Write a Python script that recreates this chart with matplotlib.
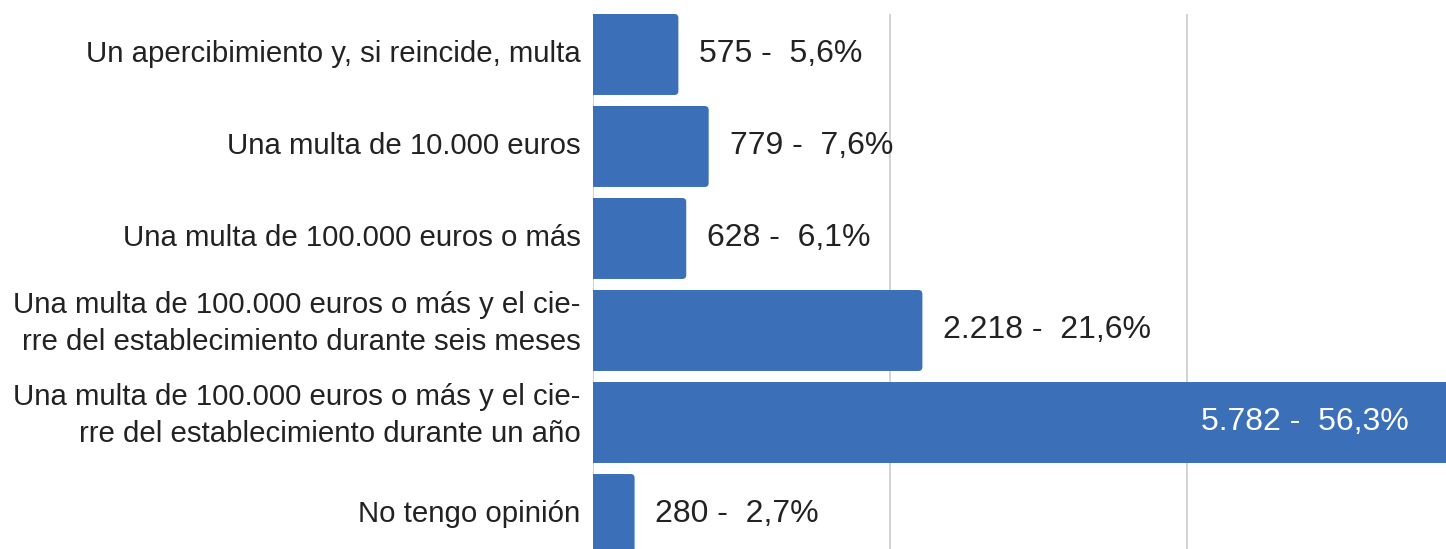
import matplotlib
matplotlib.use("Agg")
import matplotlib.pyplot as plt
import matplotlib.transforms as mtransforms
from matplotlib.patches import FancyBboxPatch

plt.rcParams['font.family'] = ['Liberation Sans', 'DejaVu Sans']

categorias = [
    "Un apercibimiento y, si reincide, multa",
    "Una multa de 10.000 euros",
    "Una multa de 100.000 euros o más",
    "Una multa de 100.000 euros o más y el cie-\nrre del establecimiento durante seis meses",
    "Una multa de 100.000 euros o más y el cie-\nrre del establecimiento durante un año",
    "No tengo opinión",
]
votos = [575, 779, 628, 2218, 5782, 280]
etiquetas = ["575", "779", "628", "2.218", "5.782", "280"]
porcentajes = ["5,6%", "7,6%", "6,1%", "21,6%", "56,3%", "2,7%"]

azul = "#3b70b8"

fig = plt.figure(figsize=(14.46, 5.49), dpi=100)
ax = fig.add_axes([593 / 1446, 0, 1 - 593 / 1446, 1 - 14 / 549])

pos = list(range(len(categorias)))
barras = ax.barh(pos, votos, height=0.88, color=azul)

ax.set_xlim(0, 5744)
ax.set_ylim(5.375, -0.44)

# barras con esquinas redondeadas (la izquierda queda recortada por el eje)
px_x = 853 / 5744
px_y = 535 / 5.815
radio = 4 / px_x
for b in barras:
    b.set_visible(False)
    x0, y0 = b.get_x(), b.get_y()
    w, h = b.get_width(), b.get_height()
    p = FancyBboxPatch((x0 - 40, y0), w + 40, h,
                       boxstyle=f"round,pad=0,rounding_size={radio}",
                       mutation_aspect=(4 / px_y) / radio,
                       facecolor=azul, edgecolor="none", zorder=3)
    ax.add_patch(p)

ax.set_xticks([0, 2000, 4000])
ax.grid(axis="x", color="#cccccc", linewidth=1.2, zorder=0)
ax.set_axisbelow(True)
ax.tick_params(axis="x", length=0, labelbottom=False)
ax.tick_params(axis="y", length=0, pad=9)
for s in ax.spines.values():
    s.set_visible(False)

ax.set_yticks(pos)
ax.set_yticklabels(categorias, fontsize=21.2, color="#222222", linespacing=1.38)
subir = mtransforms.ScaledTranslation(0, 5 / 72, fig.dpi_scale_trans)
for t in ax.get_yticklabels():
    t.set_verticalalignment("center")
    if "\n" in t.get_text():
        t.set_transform(t.get_transform() + subir)

xmax = ax.get_xlim()[1]
for i, (v, e, p) in enumerate(zip(votos, etiquetas, porcentajes)):
    texto = f"{e} -  {p}"
    if v > xmax * 0.8:
        ax.annotate(texto, (xmax, i), xytext=(-27, 0), textcoords="offset points",
                    ha="right", va="center", fontsize=23, color="white", zorder=5)
    else:
        ax.annotate(texto, (v, i), xytext=(15, 0), textcoords="offset points",
                    ha="left", va="center", fontsize=23, color="#222222", zorder=5)

fig.savefig("out.png", dpi=100)
